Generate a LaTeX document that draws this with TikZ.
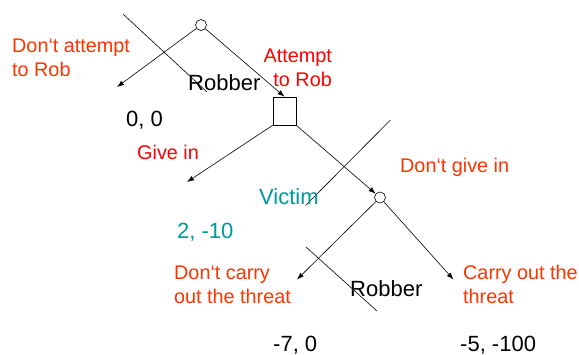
\documentclass[tikz,border=0pt]{standalone}
\usepackage{fontspec}
\setmainfont{Liberation Sans}
\usetikzlibrary{positioning}
\usetikzlibrary{arrows.meta}
\definecolor{moveRed}{RGB}{255,51,0}
\definecolor{pureRed}{RGB}{255,0,0}
\definecolor{victimTeal}{RGB}{0,153,153}
\tikzset{
    chance/.style={draw, circle, minimum size=11pt, inner sep=0pt, line width=0.6pt},
    decision/.style={draw, rectangle, minimum width=23pt, minimum height=28pt, inner sep=0pt, line width=0.6pt},
    move/.style={line width=0.6pt, -{Latex[length=7pt,width=5pt]}},
    cut/.style={line width=0.6pt},
    action/.style={inner sep=0pt, align=left, font=\fontsize{19.8}{23.4}\selectfont},
    player/.style={inner sep=0pt, font=\fontsize{22}{26}\selectfont},
}

\begin{document}
\begin{tikzpicture}[x=1pt,y=-1pt]
			\useasboundingbox (0,0) rectangle (579,354);
			% tree
			\node[chance] (robber1) at (201,25) {};
			\node[decision] (victim) at (284.5,111) {};
			\node[chance] (robber2) at (380,197.5) {};
			\coordinate (noRob) at (117,87);
			\coordinate (giveIn) at (187,182);
			\coordinate (noThreat) at (297,279.5);
			\coordinate (threat) at (453.5,279.5);
			\draw[move] (robber1) -- (noRob);
			\draw[move] (robber1) -- (victim.north);
			\draw[move] (victim.south west) -- (giveIn);
			\draw[move] (victim.south east) -- (robber2);
			\draw[move] (robber2) -- (noThreat);
			\draw[move] (robber2) -- (threat);
			% crossing strokes
			\coordinate (cutA1) at (123,14);
			\coordinate (cutA2) at (207,92);
			\coordinate (cutB1) at (390.5,120);
			\coordinate (cutB2) at (305.5,205.5);
			\coordinate (cutC1) at (306,247);
			\coordinate (cutC2) at (377,311);
			\draw[cut] (cutA1) -- (cutA2);
			\draw[cut] (cutB1) -- (cutB2);
			\draw[cut] (cutC1) -- (cutC2);
			% labels (two-line ones sit on their last line)
			\node[action, text=moveRed, anchor=base west] (lNoRob) at (12,76) {Don‘t attempt\\to Rob};
			\node[action, text=pureRed, anchor=base east, align=right] (lRob) at (332,86) {Attempt\\to Rob};
			\node[player, anchor=base west] (pRobber1) at (188,90.5) {Robber};
			\node[player, anchor=base west] (pay1) at (126,126) {0, 0};
			\node[action, text=pureRed, anchor=base west] (lGive) at (137,159) {Give in};
			\node[action, text=moveRed, anchor=base west] (lNoGive) at (400,172) {Don‘t give in};
			\node[player, text=victimTeal, anchor=base west] (pVictim) at (259,204) {Victim};
			\node[player, text=victimTeal, anchor=base west] (pay2) at (177,238) {2, -10};
			\node[action, text=moveRed, anchor=base west] (lNoThreat) at (174,303) {Don‘t carry\\out the threat};
			\node[player, anchor=base west] (pRobber2) at (350,296) {Robber};
			\node[action, text=moveRed, anchor=base west] (lThreat) at (463,303) {Carry out the\\threat};
			\node[player, anchor=base west] (pay3) at (273,351) {-7, 0};
			\node[player, anchor=base west] (pay4) at (460,351) {-5, -100};
	\end{tikzpicture}
\end{document}
